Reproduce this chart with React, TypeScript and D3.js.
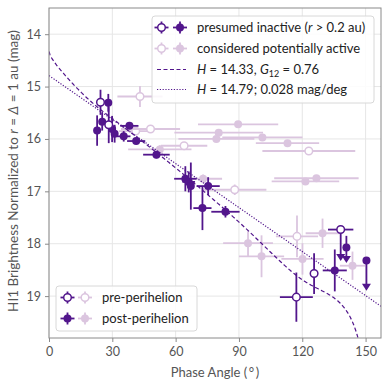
import React, { useRef, useEffect } from "react";
import * as d3 from "d3";

// [phase angle, +/- angle, magnitude, +/- mag, downward limit arrow length (mag)]
const inactivePre = [
  [24.4, 1.0, 15.3, 0.24, 0],
  [28.3, 1.0, 15.73, 0.35, 0],
  [117.2, 7.8, 19.02, 0.47, 0],
  [125.6, 0.8, 18.57, 0.39, 0],
  [138.2, 6.0, 17.73, 0, 0.6],
];
const inactivePost = [
  [28.1, 1.0, 15.31, 0.17, 0],
  [22.8, 0.8, 15.84, 0.29, 0],
  [25.2, 1.0, 15.67, 0.17, 0],
  [29.9, 1.2, 15.81, 0.25, 0],
  [31.1, 1.2, 15.9, 0.17, 0],
  [35.4, 3.2, 15.95, 0.1, 0],
  [38.1, 4.3, 15.75, 0.05, 0],
  [41.3, 4.3, 16.04, 0.06, 0],
  [50.9, 6.3, 16.3, 0.07, 0],
  [64.6, 5.3, 16.76, 0.24, 0],
  [66.2, 3.0, 16.82, 0.2, 0],
  [67.2, 1.5, 16.9, 0.45, 0],
  [75.4, 5.5, 16.9, 0.17, 0],
  [72.7, 4.3, 17.32, 0.42, 0],
  [83.6, 6.7, 17.39, 0.11, 0],
  [135.4, 5.7, 18.51, 0.4, 0],
  [140.9, 0, 18.07, 0.22, 0.3],
  [150.4, 0, 18.32, 0, 0.58],
];
const activePre = [
  [43.1, 10.7, 15.19, 0.2, 0],
  [41.1, 8.0, 15.85, 0.05, 0],
  [48.1, 14.0, 15.81, 0.05, 0],
  [64.0, 11.0, 16.13, 0.05, 0],
  [88.0, 15.0, 16.97, 0.1, 0],
  [123.1, 22.0, 16.23, 0.05, 0],
  [117.5, 10.0, 17.86, 0.4, 0],
];
const activePost = [
  [52.5, 15.0, 16.2, 0.08, 0],
  [73.0, 9.0, 16.76, 0.08, 0],
  [89.6, 19.0, 15.72, 0.05, 0],
  [80.4, 21.0, 15.88, 0.05, 0],
  [79.3, 18.0, 16.0, 0.05, 0],
  [101.1, 19.0, 15.97, 0.05, 0],
  [113.0, 15.0, 16.08, 0.05, 0],
  [126.7, 20.0, 16.75, 0.05, 0],
  [121.5, 16.0, 16.81, 0.05, 0],
  [94.3, 11.8, 17.99, 0.25, 0],
  [100.7, 10.7, 18.24, 0.4, 0],
  [129.6, 8.0, 17.8, 0.28, 0],
  [120.1, 10.0, 18.29, 0.3, 0],
  [143.8, 6.0, 18.42, 0.27, 0],
];

const xTicks = [0, 30, 60, 90, 120, 150];
const yTicks = [14, 15, 16, 17, 18, 19];

// fitted models from the legend
const hg12H = 14.33;
const hg12G = 0.76;
const linH = 14.79;
const linSlope = 0.028;

const dark = "#52168c";
const light = "#dbc5df";
const fontFamily = "Lato, 'Open Sans', sans-serif";

// clamped cubic spline (HG1G2 basis functions, Muinonen et al. 2010)
function clampedSpline(xs: number[], ys: number[], d0: number, dn: number) {
  const n = xs.length;
  const h = xs.slice(1).map((x, i) => x - xs[i]);
  const a = new Array(n).fill(0);
  const b = new Array(n).fill(0);
  const c = new Array(n).fill(0);
  const r = new Array(n).fill(0);
  b[0] = 2 * h[0];
  c[0] = h[0];
  r[0] = 6 * ((ys[1] - ys[0]) / h[0] - d0);
  for (let i = 1; i < n - 1; i++) {
    a[i] = h[i - 1];
    b[i] = 2 * (h[i - 1] + h[i]);
    c[i] = h[i];
    r[i] = 6 * ((ys[i + 1] - ys[i]) / h[i] - (ys[i] - ys[i - 1]) / h[i - 1]);
  }
  a[n - 1] = h[n - 2];
  b[n - 1] = 2 * h[n - 2];
  r[n - 1] = 6 * (dn - (ys[n - 1] - ys[n - 2]) / h[n - 2]);
  for (let i = 1; i < n; i++) {
    const m = a[i] / b[i - 1];
    b[i] -= m * c[i - 1];
    r[i] -= m * r[i - 1];
  }
  const M = new Array(n).fill(0);
  M[n - 1] = r[n - 1] / b[n - 1];
  for (let i = n - 2; i >= 0; i--) M[i] = (r[i] - c[i] * M[i + 1]) / b[i];
  return (x: number) => {
    let i = 0;
    while (i < n - 2 && x > xs[i + 1]) i++;
    const x0 = xs[i], x1 = xs[i + 1], hh = h[i];
    return (
      (M[i] * (x1 - x) ** 3) / (6 * hh) +
      (M[i + 1] * (x - x0) ** 3) / (6 * hh) +
      (ys[i] / hh - (M[i] * hh) / 6) * (x1 - x) +
      (ys[i + 1] / hh - (M[i + 1] * hh) / 6) * (x - x0)
    );
  };
}

const rad = (d: number) => (d * Math.PI) / 180;
const phi1s = clampedSpline(
  [7.5, 30, 60, 90, 120, 150].map(rad),
  [0.75, 0.33486016, 0.1341056, 0.051104756, 0.021465687, 0.0036396989],
  -1.9098593,
  -0.091328612
);
const phi2s = clampedSpline(
  [7.5, 30, 60, 90, 120, 150].map(rad),
  [0.925, 0.62884169, 0.31755495, 0.12716367, 0.022373903, 0.00016505689],
  -0.5729578,
  -8.6573138e-8
);
const phi3s = clampedSpline(
  [0, 0.3, 1, 2, 4, 8, 12, 20, 30].map(rad),
  [1, 0.83381185, 0.57735424, 0.42144772, 0.2317423, 0.10348178, 0.061733473, 0.016107006, 0],
  -0.10630097e1,
  0
);

function hg12Mag(alphaDeg: number) {
  const a = rad(alphaDeg);
  const g1 = hg12G < 0.2 ? 0.7527 * hg12G + 0.06164 : 0.9529 * hg12G + 0.02162;
  const g2 = hg12G < 0.2 ? -0.9612 * hg12G + 0.627 : -0.6125 * hg12G + 0.5572;
  const p1 = alphaDeg < 7.5 ? 1 - (6 / Math.PI) * a : phi1s(a);
  const p2 = alphaDeg < 7.5 ? 1 - (9 / (5 * Math.PI)) * a : phi2s(a);
  const p3 = alphaDeg < 30 ? phi3s(a) : 0;
  const phi = g1 * p1 + g2 * p2 + (1 - g1 - g2) * p3;
  return phi > 0 ? hg12H - 2.5 * Math.log10(phi) : 30;
}

const PhaseCurve = () => {
  const ref = useRef<SVGSVGElement>(null);

  useEffect(() => {
    if (!ref.current) return;
    const W = 390, H = 388;
    const margin = { top: 8, right: 9, bottom: 50, left: 49 };
    const width = W - margin.left - margin.right;
    const height = H - margin.top - margin.bottom;

    const svg = d3.select(ref.current);
    svg.selectAll("*").remove();
    svg.attr("width", W).attr("height", H);

    const g = svg.append("g").attr("transform", `translate(${margin.left},${margin.top})`);

    const x = d3.scaleLinear().domain([0, 157.3]).range([0, width]);
    const y = d3.scaleLinear().domain([13.5, 19.8]).range([0, height]);

    // grid
    g.append("g")
      .selectAll("line")
      .data(xTicks)
      .enter()
      .append("line")
      .attr("x1", (d) => x(d))
      .attr("x2", (d) => x(d))
      .attr("y1", 0)
      .attr("y2", height)
      .attr("stroke", "#e6e6e6")
      .attr("stroke-width", 1);
    g.append("g")
      .selectAll("line")
      .data(yTicks)
      .enter()
      .append("line")
      .attr("y1", (d) => y(d))
      .attr("y2", (d) => y(d))
      .attr("x1", 0)
      .attr("x2", width)
      .attr("stroke", "#e6e6e6")
      .attr("stroke-width", 1);

    g.append("defs")
      .append("clipPath")
      .attr("id", "plotclip")
      .append("rect")
      .attr("width", width)
      .attr("height", height);

    const plot = g.append("g").attr("clip-path", "url(#plotclip)");

    const drawGroup = (data: number[][], color: string, open: boolean) => {
      const grp = plot.append("g");
      data.forEach(([a, da, m, dm, lim]) => {
        if (da > 0)
          grp.append("line")
            .attr("x1", x(a - da)).attr("x2", x(a + da))
            .attr("y1", y(m)).attr("y2", y(m))
            .attr("stroke", color).attr("stroke-width", 1.8);
        if (dm > 0)
          grp.append("line")
            .attr("x1", x(a)).attr("x2", x(a))
            .attr("y1", y(m - dm)).attr("y2", lim > 0 ? y(m) : y(m + dm))
            .attr("stroke", color).attr("stroke-width", 1.8);
        if (lim > 0) {
          const yEnd = y(m + lim);
          grp.append("line")
            .attr("x1", x(a)).attr("x2", x(a))
            .attr("y1", y(m)).attr("y2", yEnd - 6)
            .attr("stroke", color).attr("stroke-width", 1.8);
          grp.append("path")
            .attr("d", `M${x(a) - 4.5},${yEnd - 7}L${x(a) + 4.5},${yEnd - 7}L${x(a)},${yEnd}Z`)
            .attr("fill", color);
        }
        grp.append("circle")
          .attr("cx", x(a)).attr("cy", y(m))
          .attr("r", open ? 3.8 : 4)
          .attr("fill", open ? "#fff" : color)
          .attr("stroke", color)
          .attr("stroke-width", open ? 1.5 : 0);
      });
    };

    drawGroup(activePost, light, false);
    drawGroup(activePre, light, true);

    // model curves
    const alphas = d3.range(0, 157.6, 0.25);
    plot.append("path")
      .datum(alphas)
      .attr("fill", "none")
      .attr("stroke", dark)
      .attr("stroke-width", 1.2)
      .attr("stroke-dasharray", "4,2.5")
      .attr("d", d3.line<number>().x((d) => x(d)).y((d) => y(Math.min(hg12Mag(d), 21)))(alphas));
    plot.append("path")
      .datum(alphas)
      .attr("fill", "none")
      .attr("stroke", dark)
      .attr("stroke-width", 1.2)
      .attr("stroke-dasharray", "1.2,1.6")
      .attr("d", d3.line<number>().x((d) => x(d)).y((d) => y(linH + linSlope * d))(alphas));

    drawGroup(inactivePost, dark, false);
    drawGroup(inactivePre, dark, true);

    // frame and axes
    g.append("rect")
      .attr("width", width).attr("height", height)
      .attr("fill", "none").attr("stroke", "#8a8a8a").attr("stroke-width", 1);

    const xAxis = g.append("g")
      .attr("transform", `translate(0,${height})`)
      .call(d3.axisBottom(x).tickValues(xTicks).tickSize(4).tickPadding(5).tickFormat(d3.format("d")));
    const yAxis = g.append("g")
      .call(d3.axisLeft(y).tickValues(yTicks).tickSize(4).tickPadding(4).tickFormat(d3.format("d")));
    [xAxis, yAxis].forEach((ax) => {
      ax.select(".domain").remove();
      ax.selectAll("line").attr("stroke", "#8a8a8a");
      ax.selectAll("text")
        .attr("fill", "#555")
        .style("font-family", fontFamily)
        .style("font-size", "12.5px");
    });

    // axis labels
    g.append("text")
      .attr("x", width / 2)
      .attr("y", height + 39)
      .attr("text-anchor", "middle")
      .attr("fill", "#555")
      .style("font-family", fontFamily)
      .style("font-size", "13px")
      .text("Phase Angle (\u2009\u00b0\u2009)");

    const yl = g.append("text")
      .attr("transform", `translate(${-31},${height / 2 - 2}) rotate(-90)`)
      .attr("text-anchor", "middle")
      .attr("fill", "#555")
      .style("font-family", fontFamily)
      .style("font-size", "13.5px");
    yl.append("tspan").text("HI1 Brightness Normalized to ");
    yl.append("tspan").attr("font-style", "italic").text("r");
    yl.append("tspan").text(" = ");
    yl.append("tspan").attr("font-style", "italic").text("Δ");
    yl.append("tspan").text(" = 1 au (mag)");

    // handles for the legends
    const handle = (lg: any, cx: number, cy: number, color: string, open: boolean) => {
      lg.append("line").attr("x1", cx - 7).attr("x2", cx + 7).attr("y1", cy).attr("y2", cy)
        .attr("stroke", color).attr("stroke-width", 1.8);
      lg.append("line").attr("x1", cx).attr("x2", cx).attr("y1", cy - 6).attr("y2", cy + 6)
        .attr("stroke", color).attr("stroke-width", 1.8);
      lg.append("circle").attr("cx", cx).attr("cy", cy).attr("r", open ? 3.8 : 4)
        .attr("fill", open ? "#fff" : color).attr("stroke", color)
        .attr("stroke-width", open ? 1.5 : 0);
    };
    const legendText = (lg: any, tx: number, ty: number) =>
      lg.append("text").attr("x", tx).attr("y", ty).attr("dy", "0.35em")
        .attr("fill", "#222").style("font-family", fontFamily).style("font-size", "13px");

    // legend 1 (top right), in svg coords
    const l1 = svg.append("g");
    l1.append("rect").attr("x", 152).attr("y", 16).attr("width", 222).attr("height", 87)
      .attr("rx", 3).attr("fill", "#fff").attr("fill-opacity", 0.85)
      .attr("stroke", "#d8d8d8");
    const rows1 = [27.5, 48.5, 69.5, 89.5];
    handle(l1, 161.5, rows1[0], dark, true);
    handle(l1, 180, rows1[0], dark, false);
    handle(l1, 161.5, rows1[1], light, true);
    handle(l1, 180, rows1[1], light, false);
    l1.append("line").attr("x1", 157).attr("x2", 186).attr("y1", rows1[2]).attr("y2", rows1[2])
      .attr("stroke", dark).attr("stroke-width", 1.2).attr("stroke-dasharray", "4,2.5");
    l1.append("line").attr("x1", 157).attr("x2", 186).attr("y1", rows1[3]).attr("y2", rows1[3])
      .attr("stroke", dark).attr("stroke-width", 1.2).attr("stroke-dasharray", "1.2,1.6");
    const t1 = legendText(l1, 197, rows1[0]);
    t1.append("tspan").text("presumed inactive (");
    t1.append("tspan").attr("font-style", "italic").text("r");
    t1.append("tspan").text(" > 0.2 au)");
    legendText(l1, 197, rows1[1]).text("considered potentially active");
    const t3 = legendText(l1, 197, rows1[2]);
    t3.append("tspan").attr("font-style", "italic").text("H");
    t3.append("tspan").text(` = ${hg12H}, `);
    t3.append("tspan").attr("font-style", "italic").text("G");
    t3.append("tspan").attr("font-size", "9px").attr("dy", "3").text("12");
    t3.append("tspan").attr("dy", "-3").text(` = ${hg12G}`);
    const t4 = legendText(l1, 197, rows1[3]);
    t4.append("tspan").attr("font-style", "italic").text("H");
    t4.append("tspan").text(` = ${linH}; ${linSlope} mag/deg`);

    // legend 2 (bottom left)
    const l2 = svg.append("g");
    l2.append("rect").attr("x", 56).attr("y", 286).attr("width", 141).attr("height", 45)
      .attr("rx", 3).attr("fill", "#fff").attr("fill-opacity", 0.85)
      .attr("stroke", "#d8d8d8");
    handle(l2, 67.5, 297.5, dark, true);
    handle(l2, 85, 297.5, light, true);
    handle(l2, 67.5, 318.5, dark, false);
    handle(l2, 85, 318.5, light, false);
    legendText(l2, 102, 297.5).text("pre-perihelion");
    legendText(l2, 102, 318.5).text("post-perihelion");
  }, []);

  return <svg ref={ref} style={{ position: "absolute", left: 0, top: 0 }}></svg>;
};

export default function App() {
  return <PhaseCurve />;
}
